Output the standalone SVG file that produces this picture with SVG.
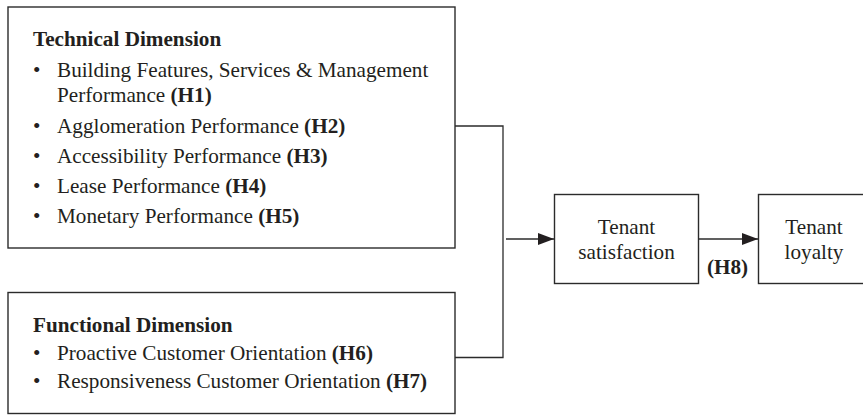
<svg xmlns="http://www.w3.org/2000/svg" width="863" height="415" viewBox="0 0 863 415">
  <style>
    .box { fill: #ffffff; stroke: #2b2b2b; stroke-width: 1.4; }
    .wire { fill: none; stroke: #2b2b2b; stroke-width: 1.3; }
    text { font-family: "Liberation Serif", "Times New Roman", serif; font-size: 21.2px; fill: #231f20; }
    .b { font-weight: bold; }
    .c { text-anchor: middle; }
  </style>
  <defs>
    <marker id="head" viewBox="0 0 16 12" refX="16" refY="6" markerWidth="16" markerHeight="12" markerUnits="userSpaceOnUse" orient="auto">
      <path d="M0,0 L16,6 L0,12 Z" fill="#231f20"/>
    </marker>
  </defs>
  <rect width="863" height="415" fill="#ffffff"/>

  <g id="technical">
    <rect class="box" x="8" y="7" width="447" height="241"/>
    <text class="b" x="33" y="46">Technical Dimension</text>
    <text x="33" y="77">•</text>
    <text x="57" y="77">Building Features, Services &amp; Management</text>
    <text x="57" y="102">Performance <tspan class="b">(H1)</tspan></text>
    <text x="33" y="132.5">•</text>
    <text x="57" y="132.5">Agglomeration Performance <tspan class="b">(H2)</tspan></text>
    <text x="33" y="162.5">•</text>
    <text x="57" y="162.5">Accessibility Performance <tspan class="b">(H3)</tspan></text>
    <text x="33" y="192.5">•</text>
    <text x="57" y="192.5">Lease Performance <tspan class="b">(H4)</tspan></text>
    <text x="33" y="222.5">•</text>
    <text x="57" y="222.5">Monetary Performance <tspan class="b">(H5)</tspan></text>
  </g>

  <g id="functional">
    <rect class="box" x="8" y="292.5" width="447" height="121"/>
    <text class="b" x="33" y="332">Functional Dimension</text>
    <text x="33" y="359.5">•</text>
    <text x="57" y="359.5">Proactive Customer Orientation <tspan class="b">(H6)</tspan></text>
    <text x="33" y="387.5">•</text>
    <text x="57" y="387.5">Responsiveness Customer Orientation <tspan class="b">(H7)</tspan></text>
  </g>

  <g id="satisfaction">
    <rect class="box" x="554.5" y="194.5" width="144" height="89"/>
    <text class="c" x="626.5" y="234">Tenant</text>
    <text class="c" x="626.5" y="259">satisfaction</text>
  </g>

  <g id="loyalty">
    <rect class="box" x="758.5" y="194.5" width="110" height="89"/>
    <text class="c" x="814" y="234">Tenant</text>
    <text class="c" x="814" y="259">loyalty</text>
  </g>

  <g id="connectors">
    <path class="wire" d="M455,126 H503 V357.5 H455"/>
    <path class="wire" d="M506,239 H554" marker-end="url(#head)"/>
    <path class="wire" d="M698.5,239 H758" marker-end="url(#head)"/>
    <text class="b c" x="727.5" y="273.5">(H8)</text>
  </g>
</svg>
